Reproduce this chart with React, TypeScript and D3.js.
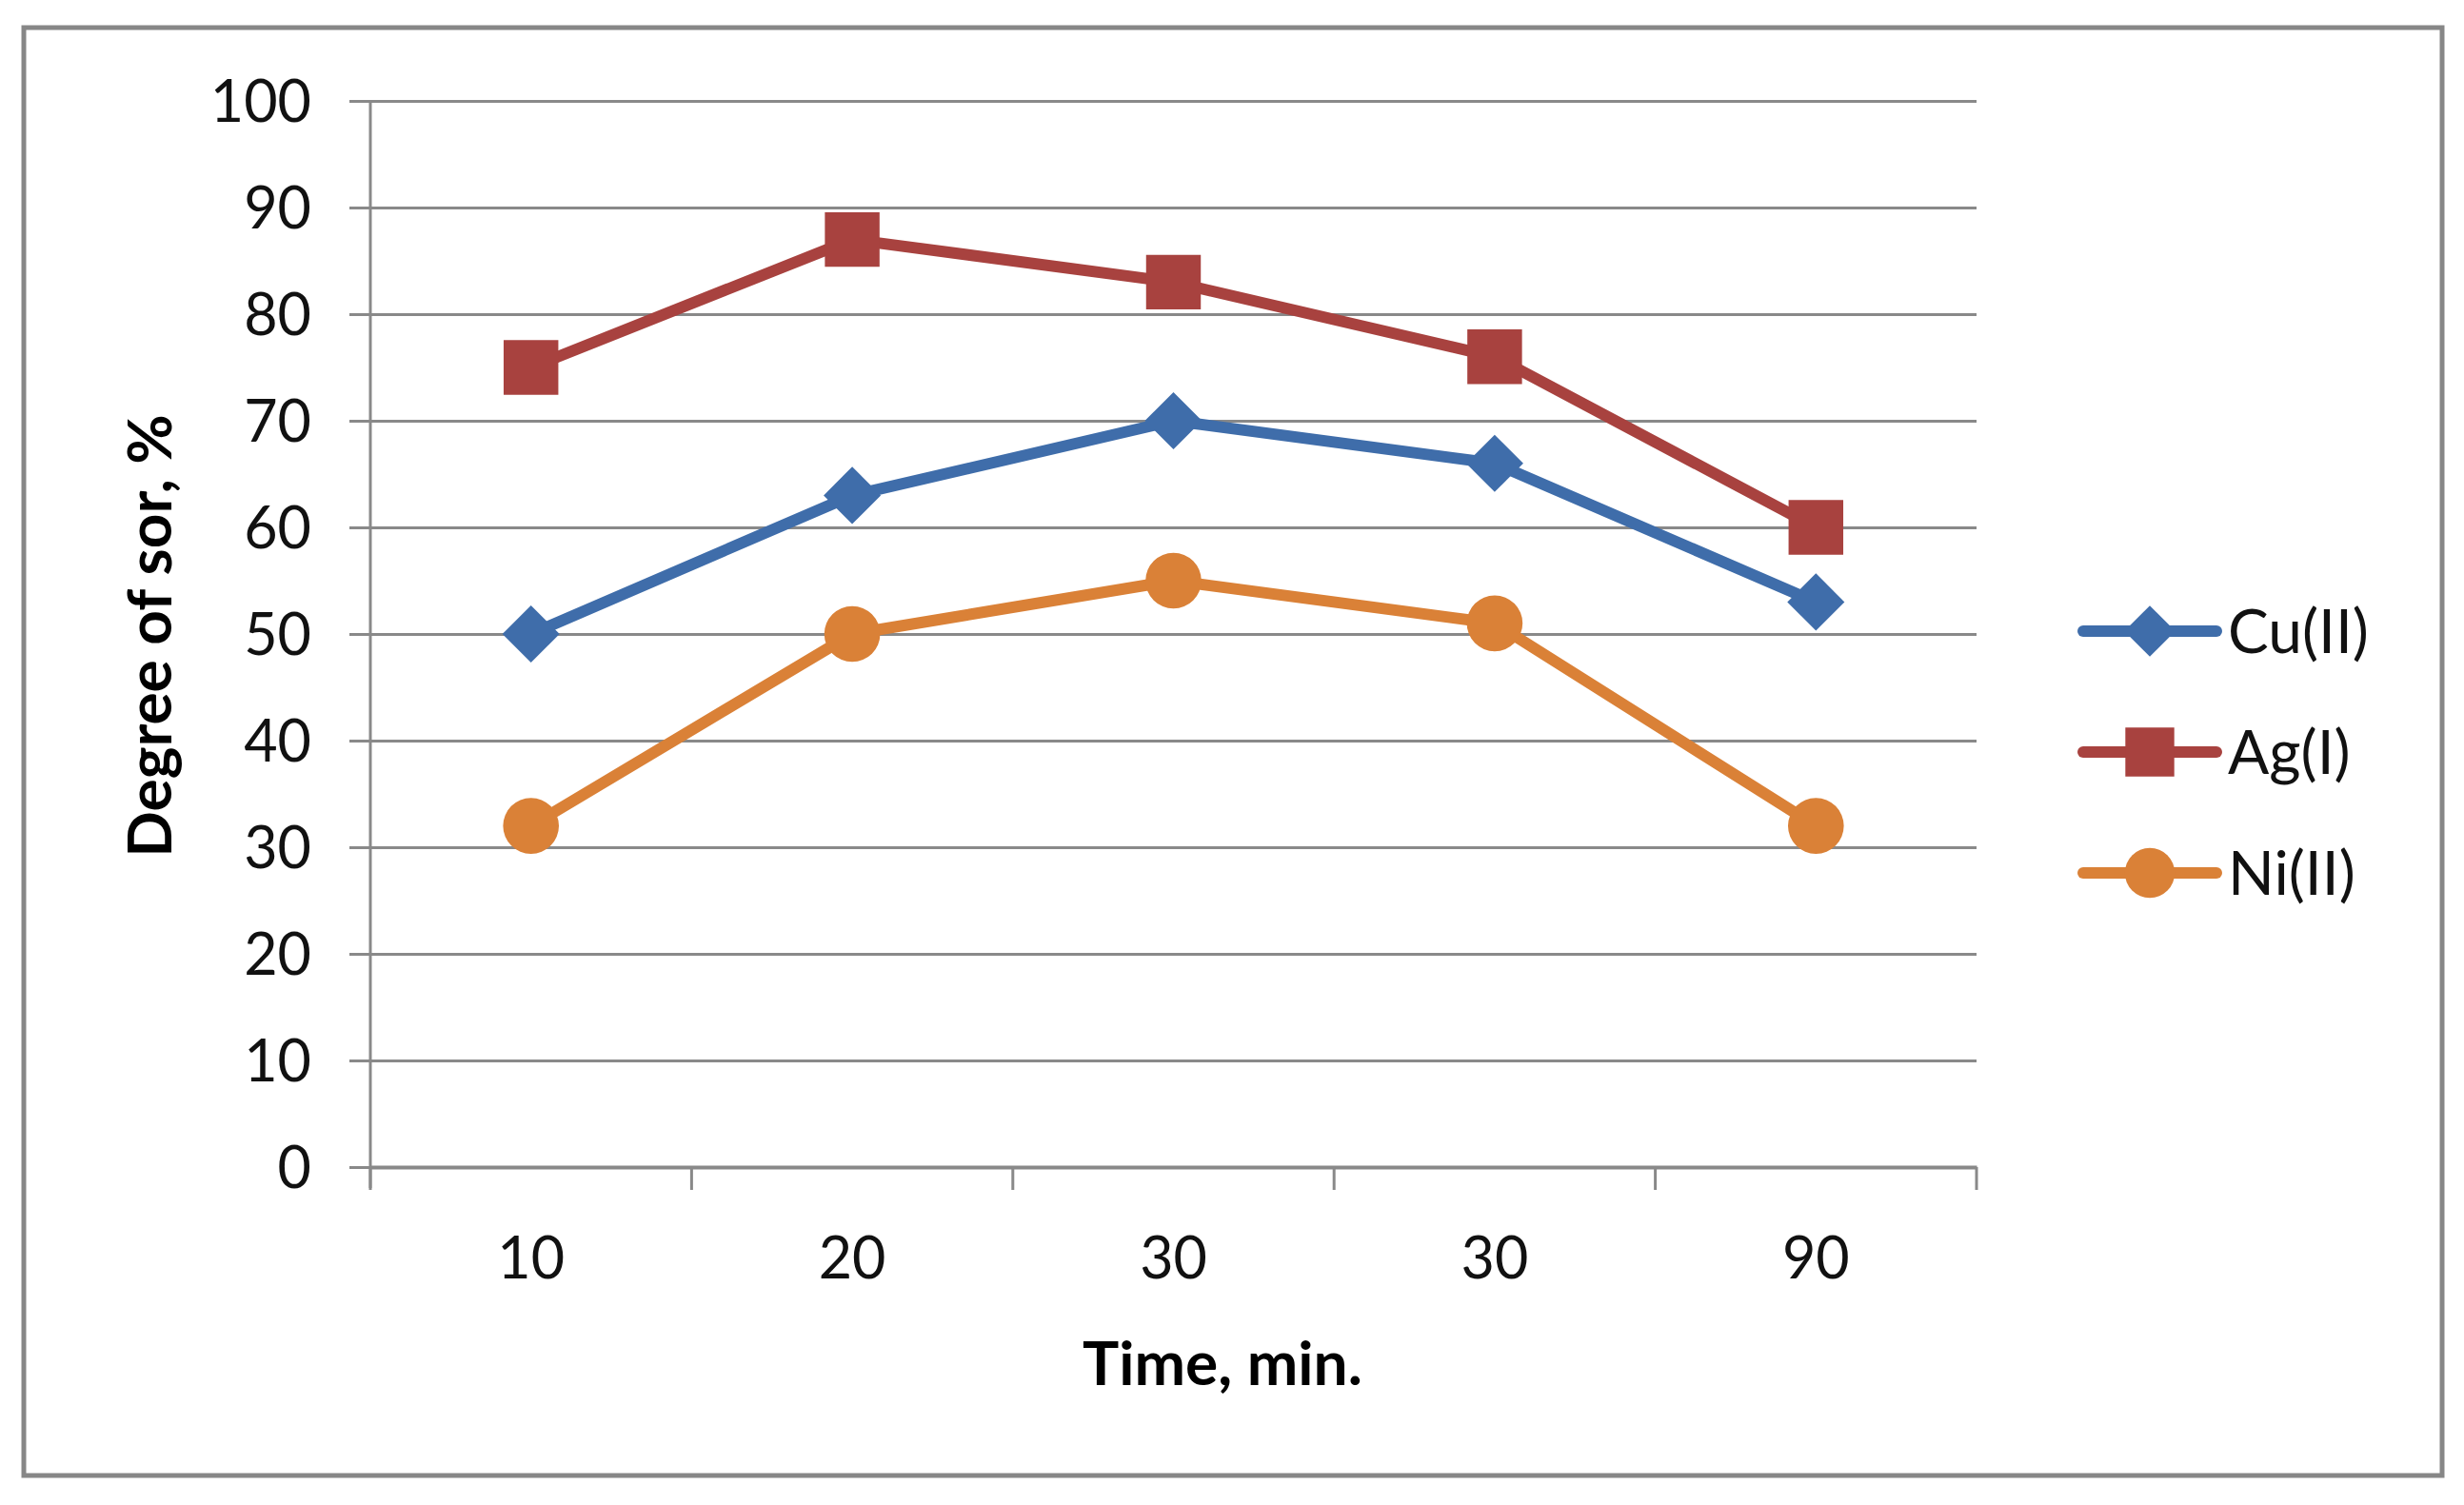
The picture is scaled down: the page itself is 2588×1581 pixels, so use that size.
import React, { useRef, useEffect } from "react";
import * as d3 from "d3";

// category labels along the x axis (as printed on the original chart)
const categories = ["10", "20", "30", "30 ", "90"];
const tickLabels = ["10", "20", "30", "30", "90"];

// degree of sorption, %
const cuValues = [50, 63, 70, 66, 53];
const agValues = [75, 87, 83, 76, 60];
const niValues = [32, 50, 55, 51, 32];

const seriesNames = ["Cu(II)", "Ag(I)", "Ni(II)"];
const yTicks = [0, 10, 20, 30, 40, 50, 60, 70, 80, 90, 100];

const W = 2588;
const H = 1581;
const FONT = "Lato, 'Open Sans', sans-serif";

const App: React.FC = () => {
  const svgRef = useRef<SVGSVGElement | null>(null);

  useEffect(() => {
    document.body.style.margin = "0";
    const svg = d3.select(svgRef.current);
    svg.selectAll("*").remove();

    svg.append("rect").attr("width", W).attr("height", H).attr("fill", "#fff");

    // outer frame
    svg
      .append("rect")
      .attr("x", 25)
      .attr("y", 29)
      .attr("width", 2540)
      .attr("height", 1521)
      .attr("fill", "none")
      .attr("stroke", "#878787")
      .attr("stroke-width", 5);

    const left = 389;
    const right = 2076;
    const top = 106;
    const bottom = 1226;

    const x = d3.scaleBand().domain(categories).range([left, right]);
    const y = d3.scaleLinear().domain([0, 100]).range([bottom, top]);
    const cx = (c: string) => x(c)! + x.bandwidth() / 2;

    // y axis with gridlines
    const yAxis = svg
      .append("g")
      .attr("transform", `translate(${left},0)`)
      .call(
        d3
          .axisLeft(y)
          .tickValues(yTicks)
          .tickSize(-(right - left))
          .tickSizeOuter(0)
          .tickPadding(0)
      );
    yAxis.select(".domain").remove();
    yAxis
      .selectAll(".tick line")
      .attr("x1", -22)
      .attr("stroke", "#898989")
      .attr("stroke-width", 3);
    yAxis
      .selectAll(".tick text")
      .attr("x", -62)
      .attr("dy", "0.36em")
      .attr("font-family", FONT)
      .attr("font-size", 61)
      .attr("fill", "#111");

    // y axis line
    svg
      .append("line")
      .attr("x1", left)
      .attr("x2", left)
      .attr("y1", top)
      .attr("y2", bottom + 22)
      .attr("stroke", "#898989")
      .attr("stroke-width", 3);

    // x axis
    const xAxis = svg
      .append("g")
      .attr("transform", `translate(0,${bottom})`)
      .call(d3.axisBottom(x).tickSize(0).tickPadding(74).tickFormat((_, i) => tickLabels[i]));
    xAxis.select(".domain").attr("stroke", "#898989").attr("stroke-width", 4);
    xAxis
      .selectAll(".tick text")
      .attr("font-family", FONT)
      .attr("font-size", 61)
      .attr("fill", "#111");

    // category boundary ticks
    svg
      .append("g")
      .selectAll("line")
      .data(d3.range(categories.length + 1))
      .enter()
      .append("line")
      .attr("x1", (i) => left + i * x.bandwidth())
      .attr("x2", (i) => left + i * x.bandwidth())
      .attr("y1", bottom)
      .attr("y2", bottom + 24)
      .attr("stroke", "#898989")
      .attr("stroke-width", 3);

    // axis titles
    svg
      .append("text")
      .attr("x", 1284)
      .attr("y", 1455)
      .attr("text-anchor", "middle")
      .attr("font-family", FONT)
      .attr("font-size", 64)
      .attr("font-weight", "bold")
      .text("Time, min.");

    svg
      .append("text")
      .attr("transform", `translate(180,668) rotate(-90)`)
      .attr("text-anchor", "middle")
      .attr("font-family", FONT)
      .attr("font-size", 64)
      .attr("font-weight", "bold")
      .text("Degree of sor, %");

    const colors = ["#3F6DAA", "#A8423F", "#DA8137"];
    const allValues = [cuValues, agValues, niValues];
    const symbols = [d3.symbolDiamond2, d3.symbolSquare, d3.symbolCircle];
    const symbolSizes = [2300, 3300, 2700];

    const line = d3
      .line<number>()
      .x((_, i) => cx(categories[i]))
      .y((d) => y(d));

    allValues.forEach((vals, s) => {
      svg
        .append("path")
        .attr("d", line(vals))
        .attr("fill", "none")
        .attr("stroke", colors[s])
        .attr("stroke-width", 12)
        .attr("stroke-linejoin", "round")
        .attr("stroke-linecap", "round");

      svg
        .append("g")
        .selectAll("path")
        .data(vals)
        .enter()
        .append("path")
        .attr("transform", (d, i) => `translate(${cx(categories[i])},${y(d)})`)
        .attr("d", d3.symbol().type(symbols[s]).size(symbolSizes[s])()!)
        .attr("fill", colors[s]);
    });

    // legend
    const legend = svg.append("g").attr("transform", "translate(2188,0)");
    seriesNames.forEach((name, s) => {
      const ly = 663 + s * 127;
      legend
        .append("line")
        .attr("x1", 0)
        .attr("x2", 140)
        .attr("y1", ly)
        .attr("y2", ly)
        .attr("stroke", colors[s])
        .attr("stroke-width", 12)
        .attr("stroke-linecap", "round");
      legend
        .append("path")
        .attr("transform", `translate(70,${ly})`)
        .attr("d", d3.symbol().type(symbols[s]).size(symbolSizes[s] * 0.8)()!)
        .attr("fill", colors[s]);
      legend
        .append("text")
        .attr("x", 152)
        .attr("y", ly)
        .attr("dy", "0.36em")
        .attr("font-family", FONT)
        .attr("font-size", 64)
        .attr("fill", "#111")
        .text(name);
    });
  }, []);

  return <svg ref={svgRef} width={W} height={H} style={{ display: "block" }}></svg>;
};

export default App;
